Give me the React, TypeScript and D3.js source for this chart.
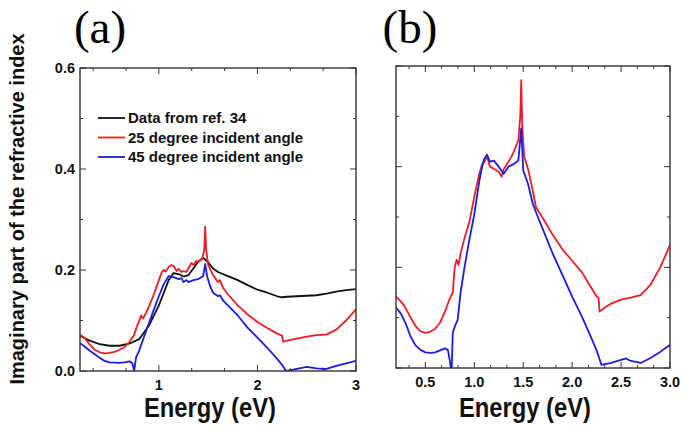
import React from 'react';
import * as d3 from 'd3';

const W = 685;
const H = 435;

// ---- panel (a) series: [energy eV, k] ----
const refA: [number, number][] = [
  [0.2, 0.070], [0.3, 0.060], [0.4, 0.053], [0.5, 0.050], [0.6, 0.050], [0.7, 0.054],
  [0.8, 0.063], [0.9, 0.090], [1.0, 0.130], [1.05, 0.155], [1.1, 0.180], [1.15, 0.194],
  [1.2, 0.192], [1.25, 0.187], [1.3, 0.190], [1.35, 0.203], [1.4, 0.217], [1.45, 0.224],
  [1.5, 0.215], [1.55, 0.203], [1.6, 0.196], [1.7, 0.188], [1.8, 0.180], [1.9, 0.170],
  [2.0, 0.161], [2.1, 0.155], [2.2, 0.148], [2.25, 0.146], [2.3, 0.147], [2.4, 0.148],
  [2.5, 0.149], [2.6, 0.150], [2.7, 0.153], [2.8, 0.157], [2.9, 0.160], [3.0, 0.162],
];

const red25A: [number, number][] = [
  [0.2, 0.072], [0.25, 0.065], [0.3, 0.052], [0.35, 0.042], [0.4, 0.037], [0.45, 0.035],
  [0.5, 0.036], [0.55, 0.038], [0.6, 0.042], [0.65, 0.047], [0.7, 0.057], [0.75, 0.072],
  [0.78, 0.090], [0.8, 0.098], [0.82, 0.110], [0.84, 0.104], [0.87, 0.115], [0.9, 0.128],
  [0.95, 0.152], [1.0, 0.180], [1.03, 0.196], [1.05, 0.200], [1.07, 0.197], [1.1, 0.206],
  [1.13, 0.210], [1.15, 0.208], [1.18, 0.198], [1.2, 0.202], [1.23, 0.196], [1.25, 0.198],
  [1.28, 0.196], [1.3, 0.203], [1.33, 0.214], [1.35, 0.210], [1.38, 0.218], [1.4, 0.216],
  [1.44, 0.222], [1.46, 0.240], [1.47, 0.286], [1.48, 0.240], [1.5, 0.210], [1.55, 0.190],
  [1.6, 0.176], [1.62, 0.180], [1.65, 0.165], [1.7, 0.152], [1.8, 0.130], [1.9, 0.112],
  [2.0, 0.097], [2.1, 0.085], [2.2, 0.074], [2.25, 0.070], [2.26, 0.058], [2.3, 0.060],
  [2.4, 0.064], [2.5, 0.068], [2.6, 0.071], [2.7, 0.072], [2.8, 0.082], [2.9, 0.100],
  [3.0, 0.122],
];

const blue45A: [number, number][] = [
  [0.2, 0.055], [0.25, 0.048], [0.3, 0.040], [0.35, 0.033], [0.4, 0.026], [0.45, 0.020],
  [0.5, 0.017], [0.6, 0.016], [0.65, 0.017], [0.7, 0.019], [0.73, 0.016], [0.75, 0.0],
  [0.76, 0.015], [0.77, 0.028], [0.8, 0.040], [0.85, 0.068], [0.9, 0.095], [0.95, 0.122],
  [1.0, 0.148], [1.05, 0.172], [1.1, 0.188], [1.15, 0.186], [1.2, 0.182], [1.23, 0.184],
  [1.25, 0.176], [1.28, 0.180], [1.3, 0.176], [1.35, 0.180], [1.4, 0.182], [1.45, 0.188],
  [1.47, 0.212], [1.49, 0.187], [1.52, 0.168], [1.55, 0.155], [1.6, 0.148], [1.62, 0.150],
  [1.65, 0.140], [1.7, 0.130], [1.8, 0.110], [1.9, 0.086], [2.0, 0.066], [2.1, 0.046],
  [2.2, 0.024], [2.25, 0.012], [2.29, 0.0], [2.35, 0.002], [2.4, 0.004], [2.5, 0.008],
  [2.6, 0.005], [2.7, 0.004], [2.8, 0.010], [2.9, 0.015], [3.0, 0.020],
];

// ---- panel (b) series ----
const red25B: [number, number][] = [
  [0.2, 0.142], [0.25, 0.132], [0.28, 0.125], [0.3, 0.118], [0.35, 0.100], [0.4, 0.083],
  [0.45, 0.073], [0.5, 0.070], [0.55, 0.072], [0.6, 0.078], [0.65, 0.090], [0.7, 0.112],
  [0.75, 0.138], [0.78, 0.150], [0.8, 0.200], [0.82, 0.215], [0.84, 0.205], [0.86, 0.228],
  [0.9, 0.258], [0.95, 0.290], [1.0, 0.340], [1.05, 0.385], [1.08, 0.405], [1.1, 0.408],
  [1.13, 0.420], [1.16, 0.400], [1.2, 0.396], [1.25, 0.390], [1.28, 0.380], [1.3, 0.395],
  [1.35, 0.410], [1.38, 0.420], [1.4, 0.428], [1.45, 0.452], [1.47, 0.500], [1.48, 0.572],
  [1.49, 0.480], [1.51, 0.420], [1.55, 0.395], [1.6, 0.350], [1.63, 0.320], [1.7, 0.298],
  [1.8, 0.265], [1.9, 0.236], [2.0, 0.213], [2.1, 0.190], [2.2, 0.158], [2.25, 0.142],
  [2.27, 0.140], [2.28, 0.112], [2.35, 0.122], [2.4, 0.128], [2.5, 0.136], [2.6, 0.140],
  [2.7, 0.145], [2.8, 0.165], [2.9, 0.200], [3.0, 0.244],
];

const blue45B: [number, number][] = [
  [0.2, 0.120], [0.25, 0.108], [0.3, 0.088], [0.35, 0.062], [0.4, 0.045], [0.45, 0.036],
  [0.5, 0.031], [0.55, 0.030], [0.6, 0.031], [0.65, 0.035], [0.7, 0.039], [0.73, 0.036],
  [0.75, 0.015], [0.76, 0.0], [0.77, 0.0], [0.78, 0.070], [0.8, 0.082], [0.83, 0.095],
  [0.86, 0.150], [0.9, 0.200], [0.95, 0.255], [1.0, 0.305], [1.05, 0.370], [1.08, 0.400],
  [1.1, 0.415], [1.13, 0.424], [1.16, 0.410], [1.2, 0.412], [1.25, 0.400], [1.3, 0.386],
  [1.35, 0.400], [1.4, 0.405], [1.45, 0.412], [1.48, 0.476], [1.5, 0.393], [1.55, 0.365],
  [1.6, 0.325], [1.65, 0.300], [1.7, 0.276], [1.8, 0.228], [1.9, 0.185], [2.0, 0.142],
  [2.1, 0.102], [2.2, 0.058], [2.25, 0.035], [2.3, 0.006], [2.35, 0.008], [2.4, 0.010],
  [2.5, 0.016], [2.55, 0.019], [2.6, 0.014], [2.7, 0.010], [2.8, 0.020], [2.9, 0.032],
  [3.0, 0.046],
];

const xTicksA = [1, 2, 3];
const xTicksB = [0.5, 1.0, 1.5, 2.0, 2.5, 3.0];
const yTicks = [0.0, 0.2, 0.4, 0.6];
const legendLabels = ['Data from ref. 34', '25 degree incident angle', '45 degree incident angle'];

const BLACK = '#111111';
const RED = '#ec1c24';
const BLUE = '#1c1cdc';
const AXIS = '#333333';
const SANS = '"Liberation Sans", Arial, sans-serif';

type Series = { data: [number, number][]; color: string };

function Panel({ box, xTicks, fmt, minorPer, showY, series, title, titleX, id }: {
  box: { l: number; r: number; t: number; b: number };
  xTicks: number[];
  fmt: (v: number) => string;
  minorPer: number;
  showY: boolean;
  series: Series[];
  title: string;
  titleX: number;
  id: string;
}) {
  const x = d3.scaleLinear().domain([0.2, 3.0]).range([box.l, box.r]);
  const y = d3.scaleLinear().domain([0, 0.6]).range([box.b, box.t]);
  const line = d3.line<[number, number]>().x(d => x(d[0])).y(d => y(d[1]));

  // minor ticks between majors
  const step = xTicks[1] - xTicks[0];
  const minor = step / minorPer;
  const xMinor: number[] = [];
  for (let v = xTicks[0] - step; v <= 3.0001; v += minor) {
    if (v >= 0.2 && !xTicks.some(t => Math.abs(t - v) < 1e-6)) xMinor.push(v);
  }
  const yMinor = d3.range(0.1, 0.6, 0.2);

  const big = 6, small = 3;
  const cx = (box.l + box.r) / 2;
  return (
    <g>
      <text x={titleX} y={43}
        fontFamily='"Liberation Serif", "Times New Roman", serif' fontSize={47}
        textAnchor="middle" fill="#000">{title}</text>
      <defs>
        <clipPath id={'clip' + id}>
          <rect x={box.l} y={box.t} width={box.r - box.l} height={box.b - box.t} />
        </clipPath>
      </defs>
      <g clipPath={`url(#clip${id})`}>
        {series.map((s, i) => (
          <path key={i} d={line(s.data) || ''} fill="none" stroke={s.color}
            strokeWidth={1.8} strokeLinejoin="round" />
        ))}
      </g>
      <g stroke={AXIS} strokeWidth={1}>
        {xTicks.map(t => (
          <g key={'xm' + t}>
            <line x1={x(t)} x2={x(t)} y1={box.b} y2={box.b - big} />
            <line x1={x(t)} x2={x(t)} y1={box.t} y2={box.t + big} />
          </g>
        ))}
        {xMinor.map(t => (
          <g key={'xn' + t}>
            <line x1={x(t)} x2={x(t)} y1={box.b} y2={box.b - small} />
            <line x1={x(t)} x2={x(t)} y1={box.t} y2={box.t + small} />
          </g>
        ))}
        {yTicks.map(t => (
          <g key={'ym' + t}>
            <line x1={box.l} x2={box.l + big} y1={y(t)} y2={y(t)} />
            <line x1={box.r} x2={box.r - big} y1={y(t)} y2={y(t)} />
          </g>
        ))}
        {yMinor.map(t => (
          <g key={'yn' + t}>
            <line x1={box.l} x2={box.l + small} y1={y(t)} y2={y(t)} />
            <line x1={box.r} x2={box.r - small} y1={y(t)} y2={y(t)} />
          </g>
        ))}
      </g>
      <rect x={box.l} y={box.t} width={box.r - box.l} height={box.b - box.t}
        fill="none" stroke={AXIS} strokeWidth={1.4} />
      <g fontFamily={SANS} fontWeight="bold" fontSize={14.5} fill="#111">
        {xTicks.map(t => (
          <text key={'xl' + t} x={x(t)} y={box.b + 19} textAnchor="middle">{fmt(t)}</text>
        ))}
        {showY && yTicks.map(t => (
          <text key={'yl' + t} x={box.l - 5} y={y(t) + 5} textAnchor="end">{t.toFixed(1)}</text>
        ))}
      </g>
      <text transform={`translate(${cx - 8},417) scale(0.88,1)`} textAnchor="middle" fontFamily={SANS}
        fontWeight="bold" fontSize={27} fill="#111">Energy (eV)</text>
    </g>
  );
}

export default function App() {
  const boxA = { l: 80, r: 356, t: 68, b: 371 };
  const boxB = { l: 396, r: 670, t: 66, b: 368 };
  const legendColors = [BLACK, RED, BLUE];
  return (
    <svg width={W} height={H} style={{ position: 'absolute', left: 0, top: 0, background: '#fff' }}>
      <Panel id="a" box={boxA} xTicks={xTicksA} fmt={v => String(v)} minorPer={3} showY
        title="(a)" titleX={100}
        series={[{ data: refA, color: BLACK }, { data: red25A, color: RED }, { data: blue45A, color: BLUE }]} />
      <Panel id="b" box={boxB} xTicks={xTicksB} fmt={v => v.toFixed(1)} minorPer={3} showY={false}
        title="(b)" titleX={410}
        series={[{ data: red25B, color: RED }, { data: blue45B, color: BLUE }]} />
      <g fontFamily={SANS} fontWeight="bold" fontSize={15} fill="#111">
        {legendLabels.map((lab, i) => (
          <g key={lab} transform={`translate(0,${118 + i * 19.5})`}>
            <line x1={98} x2={125} y1={0} y2={0} stroke={legendColors[i]} strokeWidth={1.8} />
            <text x={128} y={5}>{lab}</text>
          </g>
        ))}
      </g>
      <text transform="translate(24,209) rotate(-90)" textAnchor="middle" fontFamily={SANS}
        fontWeight="bold" fontSize={20} fill="#111">Imaginary part of the refractive index</text>
    </svg>
  );
}
